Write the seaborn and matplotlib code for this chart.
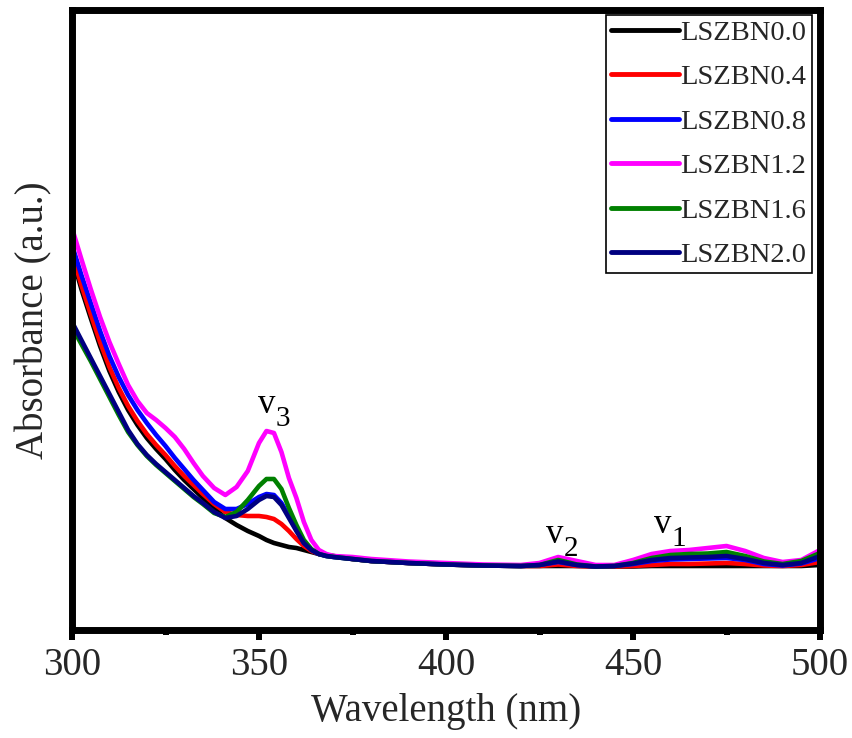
import numpy as np
import pandas as pd
import matplotlib
matplotlib.use("Agg")
import matplotlib.pyplot as plt
from matplotlib.ticker import MultipleLocator
import seaborn as sns

wavelength = [300, 302.5, 305, 307.5, 310, 312.5, 315, 317.5, 320, 322.5, 325, 327.5, 330, 332.5, 335,
              338, 341, 344, 347, 350, 352, 354, 356, 358, 360, 362, 364, 366, 368, 370,
              375, 380, 390, 400, 410, 420, 425,
              430, 435, 440, 445, 450, 455, 460, 465, 470, 475, 480, 485, 490, 495, 500]

lszbn_00 = [3.74, 3.41, 3.12, 2.84, 2.59, 2.38, 2.20, 2.05, 1.92, 1.81, 1.71, 1.60, 1.50, 1.41, 1.32,
            1.22, 1.12, 1.05, 0.99, 0.94, 0.90, 0.87, 0.85, 0.83, 0.82, 0.80, 0.78, 0.76, 0.75, 0.74,
            0.71, 0.69, 0.67, 0.655, 0.645, 0.64, 0.64,
            0.64, 0.64, 0.635, 0.635, 0.635, 0.64, 0.64, 0.64, 0.64, 0.64, 0.64, 0.64, 0.64, 0.64, 0.65]
lszbn_04 = [3.77, 3.45, 3.16, 2.88, 2.63, 2.42, 2.24, 2.09, 1.96, 1.85, 1.75, 1.64, 1.54, 1.45, 1.36,
            1.26, 1.18, 1.15, 1.14, 1.14, 1.13, 1.11, 1.06, 0.99, 0.91, 0.84, 0.79, 0.76, 0.745, 0.735,
            0.71, 0.69, 0.67, 0.655, 0.645, 0.64, 0.64,
            0.655, 0.64, 0.635, 0.635, 0.64, 0.65, 0.66, 0.66, 0.665, 0.67, 0.66, 0.645, 0.64, 0.65, 0.68]
lszbn_08 = [3.85, 3.55, 3.27, 2.99, 2.74, 2.53, 2.35, 2.20, 2.07, 1.95, 1.84, 1.72, 1.61, 1.50, 1.40,
            1.28, 1.21, 1.21, 1.26, 1.33, 1.36, 1.35, 1.27, 1.14, 1.00, 0.87, 0.80, 0.76, 0.74, 0.73,
            0.71, 0.69, 0.67, 0.655, 0.645, 0.64, 0.65,
            0.68, 0.65, 0.635, 0.64, 0.66, 0.69, 0.705, 0.71, 0.715, 0.72, 0.70, 0.66, 0.645, 0.665, 0.72]
lszbn_12 = [4.02, 3.71, 3.41, 3.13, 2.88, 2.66, 2.45, 2.29, 2.17, 2.10, 2.02, 1.93, 1.81, 1.67, 1.54,
            1.42, 1.35, 1.43, 1.59, 1.87, 1.99, 1.97, 1.78, 1.52, 1.32, 1.08, 0.90, 0.80, 0.76, 0.74,
            0.73, 0.71, 0.685, 0.67, 0.655, 0.65, 0.67,
            0.73, 0.69, 0.65, 0.65, 0.70, 0.76, 0.79, 0.80, 0.82, 0.84, 0.79, 0.72, 0.68, 0.70, 0.80]
lszbn_16 = [3.03, 2.86, 2.69, 2.51, 2.33, 2.15, 1.98, 1.85, 1.74, 1.65, 1.57, 1.49, 1.41, 1.33, 1.26,
            1.17, 1.13, 1.18, 1.30, 1.44, 1.51, 1.51, 1.41, 1.22, 1.05, 0.90, 0.81, 0.76, 0.74, 0.73,
            0.71, 0.69, 0.67, 0.655, 0.645, 0.64, 0.65,
            0.70, 0.655, 0.635, 0.64, 0.67, 0.72, 0.75, 0.76, 0.765, 0.78, 0.74, 0.685, 0.66, 0.69, 0.77]
lszbn_20 = [3.08, 2.90, 2.72, 2.54, 2.36, 2.18, 2.00, 1.86, 1.75, 1.66, 1.58, 1.50, 1.42, 1.34, 1.27,
            1.18, 1.12, 1.14, 1.21, 1.30, 1.34, 1.33, 1.25, 1.12, 0.99, 0.87, 0.80, 0.76, 0.74, 0.73,
            0.71, 0.69, 0.67, 0.655, 0.645, 0.64, 0.65,
            0.685, 0.65, 0.635, 0.64, 0.665, 0.70, 0.72, 0.725, 0.73, 0.74, 0.71, 0.67, 0.65, 0.67, 0.74]

samples = ["LSZBN0.0", "LSZBN0.4", "LSZBN0.8", "LSZBN1.2", "LSZBN1.6", "LSZBN2.0"]
colors = ["#000000", "#FF0000", "#0000FF", "#FF00FF", "#008000", "#000080"]
series = [lszbn_00, lszbn_04, lszbn_08, lszbn_12, lszbn_16, lszbn_20]

band_labels = ["3", "2", "1"]
band_x = [352.1, 429.1, 457.9]
band_y = [2.17, 0.87, 0.97]

frames = [pd.DataFrame({"Wavelength": wavelength, "Absorbance": s, "Sample": n})
          for n, s in zip(samples, series)]
df = pd.concat(frames, ignore_index=True)

sns.set_theme(style="white")
plt.rcParams["font.family"] = ["Liberation Serif", "DejaVu Serif"]

fig = plt.figure(figsize=(8.53, 7.38), dpi=100)
ax = fig.add_axes([72 / 853, 1 - 630 / 738, 748 / 853, 620 / 738])

sns.lineplot(data=df, x="Wavelength", y="Absorbance", hue="Sample", hue_order=samples,
             palette=colors, linewidth=3.3, ax=ax, legend=True)
for ln in ax.lines:
    ln.set_solid_joinstyle("round")
    ln.set_solid_capstyle("round")

ax.set_xlim(300, 500)
ax.set_ylim(0, 6.2)
ax.set_yticks([])
ax.xaxis.set_major_locator(MultipleLocator(50))
ax.xaxis.set_minor_locator(MultipleLocator(25))
ax.tick_params(axis="x", which="major", direction="out", length=7, width=4.3,
               color="black", labelsize=28, pad=5, bottom=True, top=False)
ax.tick_params(axis="x", which="minor", direction="out", length=3.5, width=4.3,
               color="black", bottom=True, top=False)
for sp in ax.spines.values():
    sp.set_linewidth(5)
    sp.set_color("black")

ax.set_xlabel("Wavelength (nm)", fontsize=28, labelpad=7)
ax.set_ylabel("Absorbance (a.u.)", fontsize=28, labelpad=14)

for lab, bx, by in zip(band_labels, band_x, band_y):
    ax.text(bx, by, "v", fontsize=25, ha="center", va="baseline", color="black")
    ax.annotate(lab, xy=(bx, by), xytext=(6.5, -9.5), textcoords="offset points",
                fontsize=21, ha="left", va="baseline", color="black")

h, l = ax.get_legend_handles_labels()
leg = ax.legend(h, l, loc="upper right", bbox_to_anchor=(0.989, 0.992), borderaxespad=0,
                fontsize=20.5, handlelength=2.4, handletextpad=0.05, labelspacing=0.65,
                borderpad=0.18, frameon=True, fancybox=False, framealpha=1, edgecolor="black")
leg.get_frame().set_linewidth(1.2)
for line in leg.get_lines():
    line.set_linewidth(3.5)

fig.savefig("out.png", dpi=100)
